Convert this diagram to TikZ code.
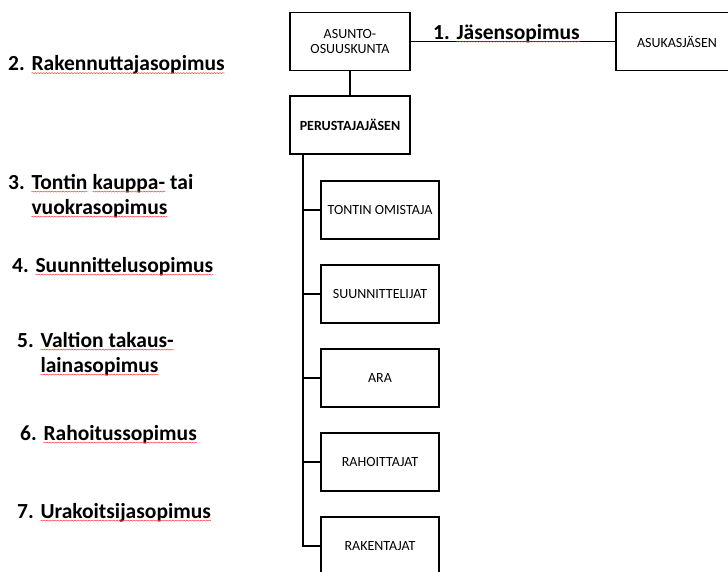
\documentclass[tikz,border=0pt]{standalone}
\usepackage{fontspec}
\setmainfont{Carlito}
\usepackage{xcolor}
\usepackage{tikz}
\usetikzlibrary{decorations.pathmorphing}

% red spell-check wave under a word
\newcommand{\redwave}[1]{\tikz[baseline=(w.base)]{\node[anchor=base, inner sep=0pt, outer sep=0pt, align=left] (w) {#1};
    \draw[red!80!white, line width=0.45pt, decorate, decoration={snake, amplitude=0.55pt, segment length=2.8pt}] ([yshift=-2.6pt]w.base west) -- ([yshift=-2.6pt]w.base east);}}

\begin{document}
\begin{tikzpicture}[x=1pt, y=-1pt,
    box/.style={draw, line width=1.8pt, minimum width=120pt, minimum height=58pt, inner sep=2pt, align=center, font=\fontsize{14}{15}\selectfont},
    sopimus/.style={anchor=base west, inner sep=0pt, align=left, font=\fontsize{21.5}{25}\selectfont\bfseries},
    link/.style={line width=1.6pt}]
\path[use as bounding box, clip] (0,0) rectangle (728,571);

% Top row
\node[box] (osuuskunta) at (350,41.5) {ASUNTO-\\OSUUSKUNTA};
\node[box, minimum width=122pt] (asukas) at (677,41.5) {ASUKASJÄSEN};
\node[box, font=\fontsize{14}{15}\selectfont\bfseries] (perustaja) at (350,125) {PERUSTAJAJÄSEN};
\draw[link] (osuuskunta) -- (asukas);
\draw[link] (osuuskunta) -- (perustaja);

% Parties under the founder
\coordinate (runko) at ([xshift=14pt]perustaja.south west);
\foreach \y/\nimi/\teksti in {210/tontti/TONTIN OMISTAJA, 294/suunnittelijat/SUUNNITTELIJAT, 378/ara/ARA, 462/rahoittajat/RAHOITTAJAT, 546/rakentajat/RAKENTAJAT} {
    \node[box, minimum width=118pt] (\nimi) at (380,\y) {\teksti};
    \draw[link] (runko) |- (\nimi.west);
}

% Contracts (base = last line)
\node[sopimus] (s1) at (433,39) {1. \redwave{Jäsensopimus}};
\node[sopimus] (s2) at (8,70.5) {2. \redwave{Rakennuttajasopimus}};
\node[sopimus] (s3) at (8,214) {3. \redwave{Tontin} \redwave{kauppa-} tai\\\phantom{3. }\redwave{vuokrasopimus}};
\node[sopimus] (s4) at (12,272) {4. \redwave{Suunnittelusopimus}};
\node[sopimus] (s5) at (17,372) {5. \redwave{Valtion takaus-}\\\phantom{5. }\redwave{lainasopimus}};
\node[sopimus] (s6) at (20,440) {6. \redwave{Rahoitussopimus}};
\node[sopimus] (s7) at (17,518) {7. \redwave{Urakoitsijasopimus}};
\end{tikzpicture}
\end{document}
